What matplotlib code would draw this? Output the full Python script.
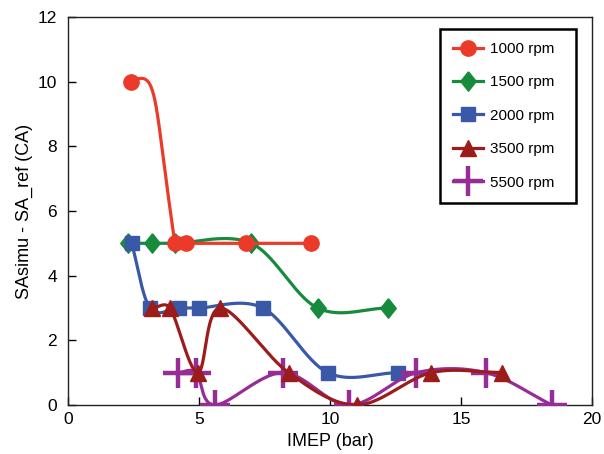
import numpy as np
import matplotlib
matplotlib.use("Agg")
import matplotlib.pyplot as plt

# ===== DATA =====
x_1000 = [2.39, 4.08, 4.49, 6.78, 9.26]
y_1000 = [10, 5, 5, 5, 5]

x_1500 = [2.29, 3.20, 4.10, 7.00, 9.53, 12.23]
y_1500 = [5, 5, 5, 5, 3, 3]

x_2000 = [2.43, 3.13, 4.22, 5.01, 7.44, 9.92, 12.61]
y_2000 = [5, 3, 3, 3, 3, 1, 1]

x_3500 = [3.22, 3.89, 4.95, 5.81, 8.42, 11.02, 13.87, 16.58]
y_3500 = [3, 3, 1, 3, 1, 0, 1, 1]

x_5500 = [4.21, 4.89, 5.61, 8.20, 10.72, 13.30, 15.95, 18.47]
y_5500 = [1, 1, 0, 1, 0, 1, 1, 0]

labels = ["1000 rpm", "1500 rpm", "2000 rpm", "3500 rpm", "5500 rpm"]
x_ticks = [0, 5, 10, 15, 20]
y_ticks = [0, 2, 4, 6, 8, 10, 12]

plt.rcParams['font.family'] = ['Liberation Sans', 'DejaVu Sans']

# screen scale (px per data unit) used for the smoothing
SX, SY = 26.2, 32.3


def smooth(xs, ys, first_arms=None, n=50):
    """Catmull-Rom style bezier through the points (arms capped by the chord).
    first_arms: optional control arm offsets (px) for the first segment."""
    P = np.column_stack([np.asarray(xs, float) * SX, np.asarray(ys, float) * SY])
    m = len(P)
    ext = np.vstack([2 * P[0] - P[1], P, 2 * P[-1] - P[-2]])
    tang = (ext[2:] - ext[:-2]) / 6.0
    t = np.linspace(0, 1, n)[:, None]
    out = []
    for i in range(m - 1):
        chord = np.hypot(*(P[i + 1] - P[i]))
        a1, a2 = tang[i], tang[i + 1]
        n1, n2 = np.hypot(*a1), np.hypot(*a2)
        if n1 > chord * 0.5:
            a1 = a1 * chord * 0.5 / n1
        if n2 > chord * 0.5:
            a2 = a2 * chord * 0.5 / n2
        c1 = P[i] + a1
        c2 = P[i + 1] - a2
        if i == 0 and first_arms is not None:
            c1 = P[0] + np.array(first_arms[0])
            c2 = P[1] + np.array(first_arms[1])
        seg = ((1 - t) ** 3 * P[i] + 3 * (1 - t) ** 2 * t * c1
               + 3 * (1 - t) * t ** 2 * c2 + t ** 3 * P[i + 1])
        out.append(seg)
    pts = np.vstack(out)
    return pts[:, 0] / SX, pts[:, 1] / SY


diamond = [(0, 1), (0.8, 0), (0, -1), (-0.8, 0), (0, 1)]

series = [
    # x, y, label, color, marker, markersize, mew, zorder, first segment arms
    (x_1500, y_1500, labels[1], '#178a3c', diamond, 14, 1, 3, None),
    (x_1000, y_1000, labels[0], '#eb3a2a', 'o', 11, 1, 4, ((28, 14), (-22, 150))),
    (x_2000, y_2000, labels[2], '#3a58a8', 's', 10, 1, 5, None),
    (x_5500, y_5500, labels[4], '#962d96', '+', 22, 3.2, 6, None),
    (x_3500, y_3500, labels[3], '#9c1c1c', '^', 11, 1, 7, None),
]

fig = plt.figure(figsize=(6.04, 4.54), dpi=100)
ax = fig.add_axes([68 / 604, 1 - 405 / 454, (592 - 68) / 604, (405 - 17) / 454])

handles = {}
for xs, ys, lab, col, mk, ms, mew, z, arms in series:
    sxs, sys_ = smooth(xs, ys, arms)
    ax.plot(sxs, sys_, color=col, linewidth=2.3, zorder=z, solid_capstyle='round')
    ax.plot(xs, ys, linestyle='none', marker=mk, markersize=ms, color=col,
            markeredgecolor=col, markeredgewidth=mew, zorder=z + 0.5)
    h, = ax.plot([], [], color=col, linewidth=2.3, marker=mk, markersize=ms,
                 markeredgecolor=col, markeredgewidth=mew)
    handles[lab] = h

ax.set_xlim(0, 20)
ax.set_ylim(0, 12)
ax.set_xticks(x_ticks)
ax.set_yticks(y_ticks)
ax.tick_params(direction='in', length=6, width=1, labelsize=12.5, top=False, right=False)
ax.tick_params(axis='y', pad=8)
ax.tick_params(axis='x', pad=5)
for sp in ax.spines.values():
    sp.set_linewidth(1)
    sp.set_color('#222222')

ax.set_xlabel("IMEP (bar)", fontsize=13, labelpad=4)
ax.set_ylabel("SAsimu - SA_ref (CA)", fontsize=13, labelpad=3)

leg = ax.legend([handles[l] for l in labels], labels, loc='upper left',
                bbox_to_anchor=(0.71, 0.969, 0.2595, 0.0), mode='expand',
                borderaxespad=0, fontsize=11,
                fancybox=False, framealpha=1, edgecolor='black',
                labelspacing=1.27, handlelength=1.95, handletextpad=0.5,
                borderpad=0.85, numpoints=1)
leg.get_frame().set_linewidth(1.8)

plt.savefig("out.png", dpi=100)
